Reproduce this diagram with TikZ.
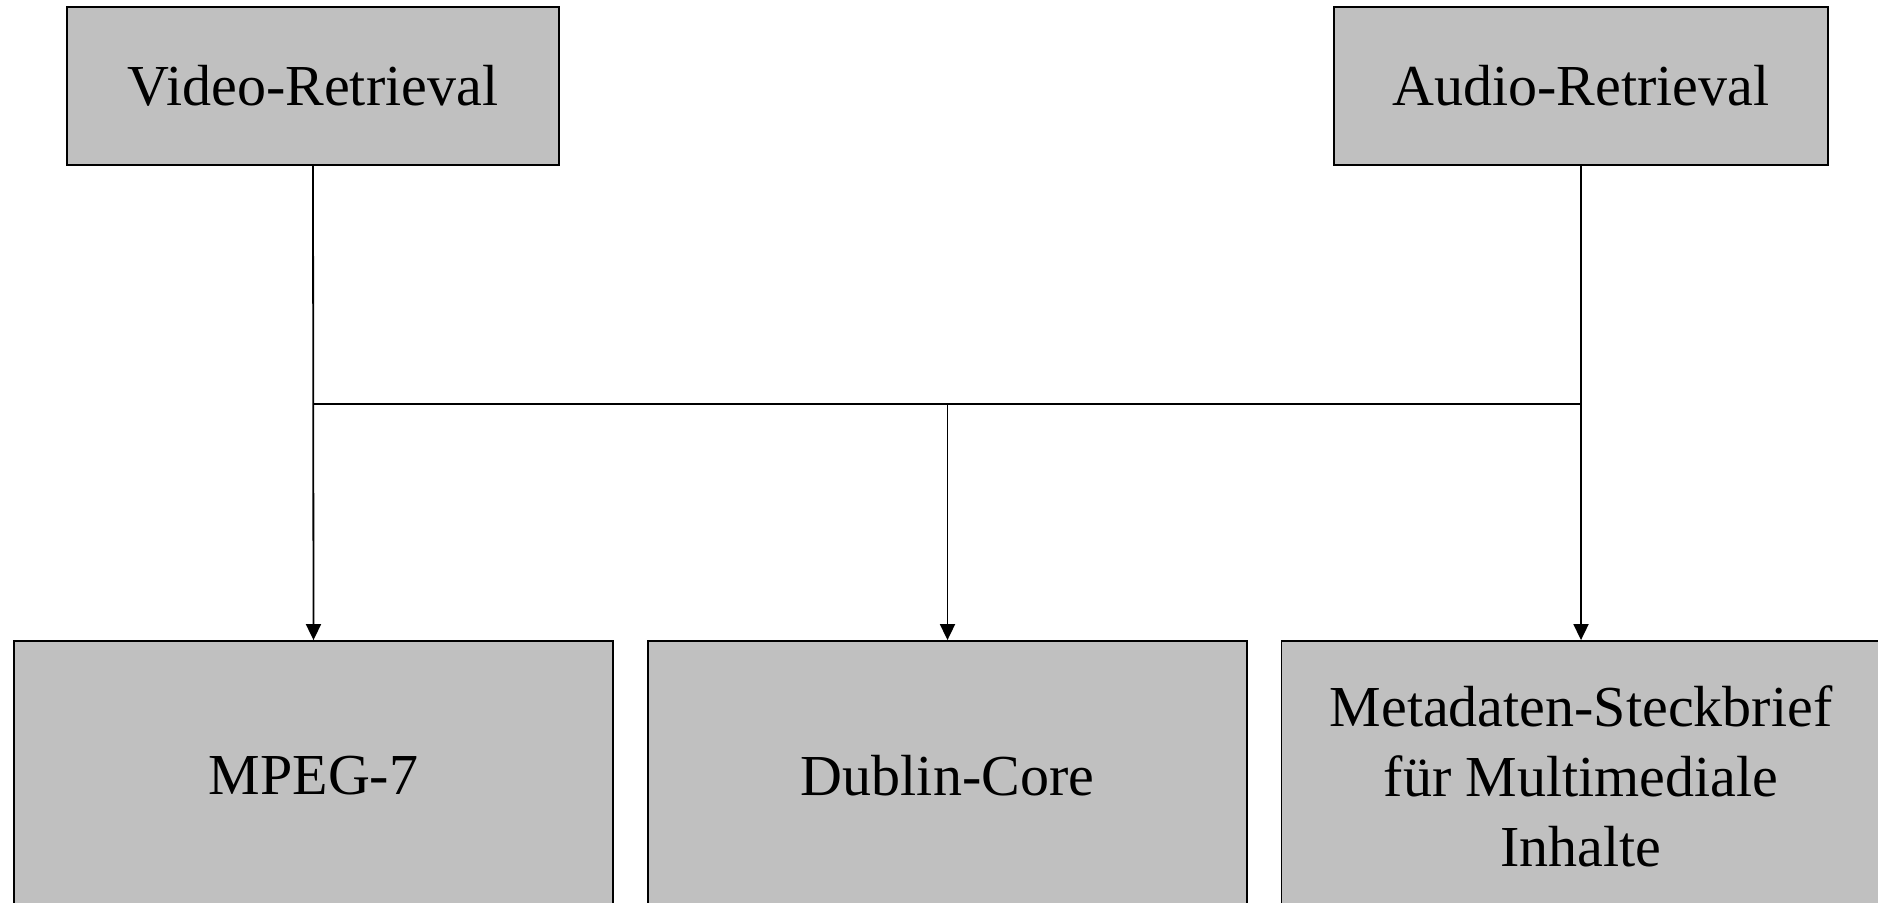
\documentclass[tikz,border=0pt]{standalone}
\usepackage{fontspec}
\setmainfont{Liberation Serif}
\usepackage{tikz}
\usetikzlibrary{arrows.meta, positioning, calc}

\definecolor{boxgray}{RGB}{192,192,192}

\begin{document}
\begin{tikzpicture}[x=1pt, y=1pt,
        box/.style={rectangle, draw=black, fill=boxgray, line width=1.8pt, inner sep=0pt, align=center, font=\fontsize{58}{70}\selectfont},
        topbox/.style={box, minimum width=492pt, minimum height=158pt},
        lowbox/.style={box, minimum width=599pt, minimum height=270pt},
        link/.style={line width=1.8pt, draw=black},
        arrow/.style={link, -{Triangle[length=16pt, width=15pt]}}
    ]
        % Canvas
        \clip (0,0) rectangle (1878,902);
        \useasboundingbox (0,0) rectangle (1878,902);

        % Retrieval boxes
        \node[topbox] (video) at (313, 816) {Video-Retrieval};
        \node[topbox, minimum width=494pt] (audio) at (1581, 816) {Audio-Retrieval};

        % Metadata standards
        \node[lowbox] (mpeg) at (313.5, 126) {MPEG-7};
        \node[lowbox] (dublin) at (947.5, 126) {Dublin-Core};
        \node[lowbox] (meta) at (1581, 126) {Metadaten-Steckbrief\\für Multimediale\\Inhalte};

        % Junctions
        \coordinate (jl) at (video.south |- 0, 498);
        \coordinate (jr) at (audio.south |- 0, 498);
        \coordinate (jm) at (dublin.north |- 0, 498);

        % Connections
        \draw[arrow] (video.south) -- (mpeg.north);
        \draw[arrow] (audio.south) -- (meta.north);
        \draw[link] (jl) -- (jr);
        \draw[arrow] (jm) -- (dublin.north);

    \end{tikzpicture}
\end{document}
